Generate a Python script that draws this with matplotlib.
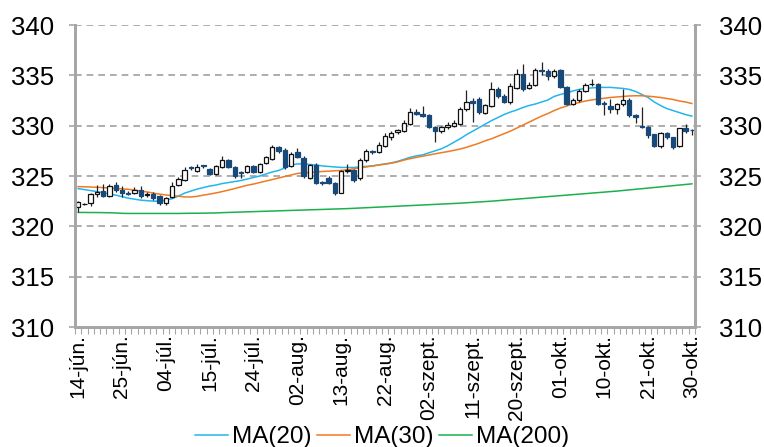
import matplotlib
matplotlib.use('Agg')
import matplotlib.pyplot as plt
from matplotlib.patches import Rectangle
from matplotlib.ticker import FixedLocator

plt.rcParams['font.family'] = ['Liberation Sans', 'DejaVu Sans']

# ---- data ----
tick_labels = ['14-jún.', '25-jún.', '04-júl.', '15-júl.', '24-júl.', '02-aug.', '13-aug.',
               '22-aug.', '02-szept.', '11-szept.', '20-szept.', '01-okt.', '10-okt.',
               '21-okt.', '30-okt.']

opens = [321.9, 322.2, 322.3, 323.2, 323.5, 323.05, 324.1, 323.6, 323.35, 323.3,
         323.6, 323.1, 323.2, 323.0, 322.3, 322.9, 324.1, 324.6, 325.85, 325.5,
         326.05, 325.7, 325.2, 325.9, 326.6, 325.9, 325.4, 325.4, 326.0, 325.4,
         326.3, 326.7, 327.9, 327.6, 326.0, 327.4, 326.8, 324.8, 326.1, 324.35,
         324.8, 324.3, 323.35, 325.5, 325.6, 324.8, 326.6, 327.5, 327.4, 328.0,
         328.9, 329.4, 329.5, 330.2, 331.4, 331.2, 331.05, 329.9, 329.5, 329.9,
         330.0, 330.2, 331.7, 332.5, 332.6, 331.3, 332.0, 333.6, 332.9, 332.4,
         333.7, 335.1, 333.7, 334.05, 335.55, 335.4, 334.9, 335.5, 333.8, 332.2,
         332.55, 333.4, 334.1, 334.1, 332.3, 331.95, 331.7, 332.15, 332.55, 331.05,
         330.0, 329.9, 329.15, 327.95, 329.3, 328.85, 327.95, 329.75, 329.6]
highs = [322.5, 322.35, 323.3, 324.1, 324.2, 324.2, 324.4, 324.0, 323.5, 323.9,
         324.0, 323.4, 323.4, 323.1, 322.9, 324.4, 324.9, 325.9, 326.0, 326.2,
         326.1, 325.8, 326.1, 327.0, 326.7, 326.0, 325.5, 326.1, 326.1, 326.3,
         327.0, 328.1, 328.0, 327.8, 327.4, 327.8, 327.0, 326.2, 326.3, 324.5,
         325.0, 324.4, 325.6, 326.2, 325.7, 326.8, 327.7, 327.6, 328.4, 329.3,
         329.5, 329.7, 330.6, 331.8, 331.7, 332.0, 331.2, 330.0, 330.0, 330.4,
         330.6, 331.9, 333.5, 332.7, 332.8, 332.2, 334.3, 333.8, 333.1, 334.2,
         335.6, 336.1, 334.3, 335.7, 336.3, 335.6, 335.6, 335.6, 333.9, 332.7,
         333.6, 334.2, 334.6, 334.2, 332.5, 332.6, 332.3, 333.6, 332.7, 331.2,
         331.9, 330.0, 329.2, 329.4, 329.4, 328.9, 329.8, 330.2, 329.65]
lows = [321.45, 322.1, 322.0, 322.9, 322.9, 322.9, 323.4, 322.9, 323.1, 323.2,
        322.8, 322.9, 322.6, 322.1, 322.1, 322.8, 324.0, 324.5, 325.6, 325.4,
        325.8, 325.1, 325.1, 325.8, 325.8, 324.8, 324.8, 325.3, 325.3, 325.3,
        326.2, 326.6, 327.3, 325.7, 325.9, 326.8, 324.8, 324.7, 324.2, 324.1,
        324.2, 323.1, 323.3, 325.3, 324.4, 324.6, 326.4, 327.2, 327.3, 327.9,
        328.6, 329.2, 329.4, 330.1, 331.1, 330.9, 329.8, 328.4, 329.3, 329.7,
        329.9, 330.1, 331.5, 330.4, 331.2, 331.2, 331.9, 332.7, 332.3, 332.2,
        333.6, 333.4, 333.6, 333.9, 335.0, 334.5, 334.7, 333.7, 332.1, 332.1,
        332.4, 333.3, 333.9, 332.1, 331.05, 331.3, 331.2, 332.0, 330.9, 330.3,
        329.8, 328.8, 327.9, 327.8, 328.7, 327.65, 327.85, 329.3, 329.1]
closes = [322.45, 322.25, 323.2, 323.45, 323.0, 324.0, 323.6, 323.3, 323.25, 323.6,
          323.0, 323.25, 322.8, 322.3, 322.8, 324.0, 324.7, 325.6, 325.75, 325.9,
          325.95, 325.2, 326.0, 326.6, 325.9, 325.0, 325.3, 326.0, 325.4, 326.2,
          326.9, 327.9, 327.5, 325.9, 327.2, 326.9, 325.0, 326.1, 324.3, 324.3,
          324.3, 323.3, 325.5, 325.6, 324.6, 326.6, 327.5, 327.4, 328.1, 329.0,
          329.3, 329.6, 330.3, 331.4, 331.2, 331.0, 329.9, 329.5, 329.9, 330.05,
          330.25, 331.7, 332.4, 332.3, 331.4, 332.05, 333.6, 332.9, 332.4, 333.9,
          335.1, 333.6, 334.05, 335.5, 335.4, 334.9, 335.45, 333.8, 332.2, 332.55,
          333.45, 334.05, 334.1, 332.2, 332.15, 331.7, 332.15, 332.55, 331.05, 330.85,
          329.9, 329.05, 328.0, 329.3, 328.85, 327.9, 329.75, 329.5, 329.55]

ma20 = [323.75, 323.65, 323.55, 323.45, 323.35, 323.2, 323.1, 322.95, 322.8, 322.7,
        322.6, 322.55, 322.5, 322.5, 322.6, 322.75, 323.0, 323.3, 323.5, 323.7,
        323.85, 324.0, 324.1, 324.25, 324.35, 324.45, 324.55, 324.7, 324.85, 325.0,
        325.2, 325.4, 325.55, 325.8, 326.1, 326.2, 326.2, 326.15, 326.1, 326.0,
        325.95, 325.9, 325.85, 325.85, 325.85, 325.9, 325.95, 326.0, 326.1, 326.2,
        326.3, 326.45, 326.65, 326.85, 327.0, 327.1, 327.3, 327.5, 327.7, 328.0,
        328.35, 328.7, 329.1, 329.45, 329.8, 330.15, 330.5, 330.8, 331.1, 331.35,
        331.55, 331.8, 332.0, 332.15, 332.35, 332.55, 332.9, 333.1, 333.25, 333.45,
        333.6, 333.7, 333.75, 333.8, 333.8, 333.8, 333.75, 333.7, 333.6, 333.4,
        333.1, 332.8, 332.35, 332.0, 331.7, 331.5, 331.3, 331.1, 330.95]
ma30 = [323.95, 323.93, 323.9, 323.88, 323.85, 323.8, 323.77, 323.72, 323.68, 323.6,
        323.5, 323.42, 323.3, 323.2, 323.12, 323.05, 323.0, 322.92, 322.92, 322.98,
        323.1, 323.2, 323.32, 323.45, 323.6, 323.75, 323.92, 324.08, 324.2, 324.35,
        324.5, 324.65, 324.8, 324.95, 325.1, 325.25, 325.32, 325.36, 325.4, 325.45,
        325.48, 325.52, 325.55, 325.62, 325.72, 325.82, 325.9, 326.0, 326.1, 326.18,
        326.27, 326.4, 326.58, 326.72, 326.85, 326.97, 327.08, 327.2, 327.32, 327.42,
        327.55, 327.68, 327.85, 328.05, 328.25, 328.5, 328.7, 328.95, 329.2, 329.45,
        329.75, 330.05, 330.35, 330.65, 330.95, 331.2, 331.5, 331.75, 331.95, 332.15,
        332.3, 332.45, 332.55, 332.65, 332.72, 332.8, 332.85, 332.9, 332.95, 332.97,
        332.97, 332.93, 332.87, 332.8, 332.7, 332.6, 332.45, 332.35, 332.2]
ma200 = [321.38, 321.38, 321.37, 321.37, 321.36, 321.35, 321.33, 321.29, 321.28, 321.28,
         321.28, 321.28, 321.28, 321.28, 321.28, 321.28, 321.28, 321.29, 321.3, 321.3,
         321.31, 321.32, 321.33, 321.36, 321.38, 321.4, 321.42, 321.44, 321.46, 321.48,
         321.5, 321.52, 321.54, 321.56, 321.58, 321.6, 321.62, 321.64, 321.66, 321.68,
         321.7, 321.72, 321.74, 321.76, 321.79, 321.82, 321.85, 321.88, 321.91, 321.94,
         321.97, 322.0, 322.03, 322.06, 322.09, 322.12, 322.15, 322.18, 322.21, 322.24,
         322.27, 322.3, 322.34, 322.38, 322.42, 322.46, 322.5, 322.55, 322.6, 322.65,
         322.7, 322.75, 322.8, 322.85, 322.9, 322.95, 323.0, 323.05, 323.1, 323.15,
         323.2, 323.25, 323.3, 323.35, 323.4, 323.45, 323.5, 323.56, 323.62, 323.68,
         323.74, 323.8, 323.86, 323.92, 323.98, 324.04, 324.1, 324.16, 324.22]

# ---- figure ----
fig = plt.figure(figsize=(7.64, 4.47), dpi=100)
ax = fig.add_axes([75/764, 1 - 327/447, 620/764, 302/447])

n = len(opens)
xs = list(range(n))
grid_col = '#A0A0A0'
axis_col = '#A6A6A6'
blue_body = '#17497A'
yt = [310, 315, 320, 325, 330, 335, 340]

for y in yt[1:]:
    ax.axhline(y, color=grid_col, lw=1.2, ls=(0, (4, 3)), zorder=1)

l20, = ax.plot(xs, ma20, color='#22B5EE', lw=1.1, zorder=2, label='MA(20)')
l30, = ax.plot(xs, ma30, color='#F07A22', lw=1.1, zorder=2, label='MA(30)')
l200, = ax.plot(xs, ma200, color='#19B14C', lw=1.1, zorder=2, label='MA(200)')

w = 0.7
for i in xs:
    o, h, l, c = opens[i], highs[i], lows[i], closes[i]
    ax.vlines(i, l, h, color='#222222', lw=0.9, zorder=3)
    bottom = min(o, c)
    height = max(abs(c - o), 0.06)
    if c >= o:
        ax.add_patch(Rectangle((i - w / 2, bottom), w, height, facecolor='white',
                               edgecolor='#111111', lw=0.9, zorder=4))
    else:
        ax.add_patch(Rectangle((i - w / 2, bottom), w, height, facecolor=blue_body,
                               edgecolor=blue_body, lw=0.9, zorder=4))

ax.set_xlim(-0.5, n - 0.5)
ax.set_ylim(310, 340)
ax.set_yticks(yt)
ax.tick_params(axis='y', labelsize=18.5, length=4, color=axis_col, width=1.2, pad=11)

major_pos = list(range(0, n, 7))
ax.set_xticks(major_pos)
ax.set_xticklabels(tick_labels, rotation=90, fontsize=15)
ax.tick_params(axis='x', which='major', length=0, pad=5)
ax.xaxis.set_minor_locator(FixedLocator([k - 0.5 for k in range(n + 1)]))
ax.tick_params(axis='x', which='minor', length=5, color=axis_col, width=0.8)

for side in ['left', 'right', 'bottom']:
    ax.spines[side].set_color(axis_col)
    ax.spines[side].set_linewidth(2.0)
ax.spines['top'].set_visible(False)

ax2 = ax.twinx()
ax2.set_ylim(310, 340)
ax2.set_yticks(yt)
ax2.tick_params(axis='y', labelsize=18.5, length=4, color=axis_col, width=1.2, pad=13)
for side in ['left', 'right', 'bottom']:
    ax2.spines[side].set_color(axis_col)
    ax2.spines[side].set_linewidth(2.0)
ax2.spines['top'].set_visible(False)

fig.legend(handles=[l20, l30, l200], loc='center', bbox_to_anchor=(0.5, 1 - 437/447),
           ncol=3, frameon=False, fontsize=17.5, handlelength=1.35, handletextpad=0.15,
           columnspacing=0.25, borderaxespad=0)

fig.savefig('out.png', dpi=100)
